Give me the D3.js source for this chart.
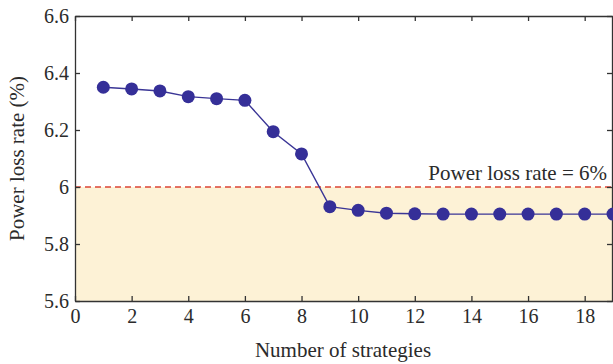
<!DOCTYPE html>
<html>
<head>
<meta charset="utf-8">
<script src="https://cdn.jsdelivr.net/npm/d3@7"></script>
<style>
  html, body { margin: 0; padding: 0; background: #fff; }
  svg { display: block; }
  text { font-family: "Liberation Serif", "Times New Roman", serif; fill: #2b2b2b; }
</style>
</head>
<body>
<svg id="chart" width="613" height="364"></svg>
<script>
// Power loss rate (%) for each number of strategies
const strategies = [1, 2, 3, 4, 5, 6, 7, 8, 9, 10, 11, 12, 13, 14, 15, 16, 17, 18, 19];
const lossRate = [6.350, 6.344, 6.337, 6.317, 6.310, 6.304, 6.194, 6.116, 5.931, 5.918,
                  5.908, 5.906, 5.905, 5.905, 5.905, 5.905, 5.905, 5.905, 5.905];
const threshold = 6.0;
const thresholdLabel = "Power loss rate = 6%";
const xTicks = [0, 2, 4, 6, 8, 10, 12, 14, 16, 18];
const yTicks = [5.6, 5.8, 6.0, 6.2, 6.4, 6.6];
const xTitle = "Number of strategies";
const yTitle = "Power loss rate (%)";

const svg = d3.select("#chart");
const m = { left: 75, right: 613, top: 16, bottom: 301 };
const font = '"Liberation Serif", "Times New Roman", serif';

const x = d3.scaleLinear().domain([0, 19]).range([m.left, m.right]);
const y = d3.scaleLinear().domain([5.6, 6.6]).range([m.bottom, m.top]);

const axisColor = "#333";

// Shaded region below the threshold
svg.append("rect")
  .attr("x", x(0)).attr("y", y(threshold))
  .attr("width", x(19) - x(0)).attr("height", y(5.6) - y(threshold))
  .attr("fill", "#fdf2d6");

// Threshold line
svg.append("line")
  .attr("x1", x(0)).attr("x2", x(19))
  .attr("y1", y(threshold)).attr("y2", y(threshold))
  .attr("stroke", "#dc4436").attr("stroke-width", 1.5)
  .attr("stroke-dasharray", "6,4");

svg.append("text")
  .attr("x", 607).attr("y", y(threshold) - 7)
  .attr("text-anchor", "end")
  .attr("font-family", font)
  .attr("font-size", 21)
  .text(thresholdLabel);

// Axes (ticks pointing inward)
const fmtY = d => (d === 6 ? "6" : d3.format(".1f")(d));
const bottomAxis = d3.axisBottom(x).tickValues(xTicks).tickSizeInner(-5).tickSizeOuter(0).tickPadding(8);
const topAxis = d3.axisTop(x).tickValues(xTicks).tickSizeInner(-5).tickSizeOuter(0).tickFormat("");
const leftAxis = d3.axisLeft(y).tickValues(yTicks).tickSizeInner(-5).tickSizeOuter(0).tickPadding(6).tickFormat(fmtY);
const rightAxis = d3.axisRight(y).tickValues(yTicks).tickSizeInner(-5).tickSizeOuter(0).tickFormat("");

function style(g) {
  g.selectAll("path, line").attr("stroke", axisColor).attr("stroke-width", 1.3);
  g.selectAll("text").attr("font-size", 20).attr("fill", "#2b2b2b").attr("font-family", font);
}

svg.append("g").attr("transform", `translate(0,${m.bottom})`).call(bottomAxis).call(style);
svg.append("g").attr("transform", `translate(0,${m.top})`).call(topAxis).call(style);
svg.append("g").attr("transform", `translate(${m.left},0)`).call(leftAxis).call(style);
svg.append("g").attr("transform", `translate(${m.right - 1},0)`).call(rightAxis).call(style);

// Data line and markers
const pts = strategies.map((s, i) => [s, lossRate[i]]);
svg.append("path")
  .datum(pts)
  .attr("fill", "none")
  .attr("stroke", "#3a3596")
  .attr("stroke-width", 1.4)
  .attr("d", d3.line().x(d => x(d[0])).y(d => y(d[1])));

svg.append("g").selectAll("circle")
  .data(pts)
  .join("circle")
  .attr("cx", d => x(d[0]))
  .attr("cy", d => y(d[1]))
  .attr("r", 6.5)
  .attr("fill", "#352f98");

// Axis titles
svg.append("text")
  .attr("x", 343).attr("y", 357)
  .attr("text-anchor", "middle")
  .attr("font-family", font)
  .attr("font-size", 21)
  .text(xTitle);

svg.append("text")
  .attr("transform", `translate(24,${(m.top + m.bottom) / 2}) rotate(-90)`)
  .attr("text-anchor", "middle")
  .attr("font-family", font)
  .attr("font-size", 21)
  .text(yTitle);
</script>
</body>
</html>
